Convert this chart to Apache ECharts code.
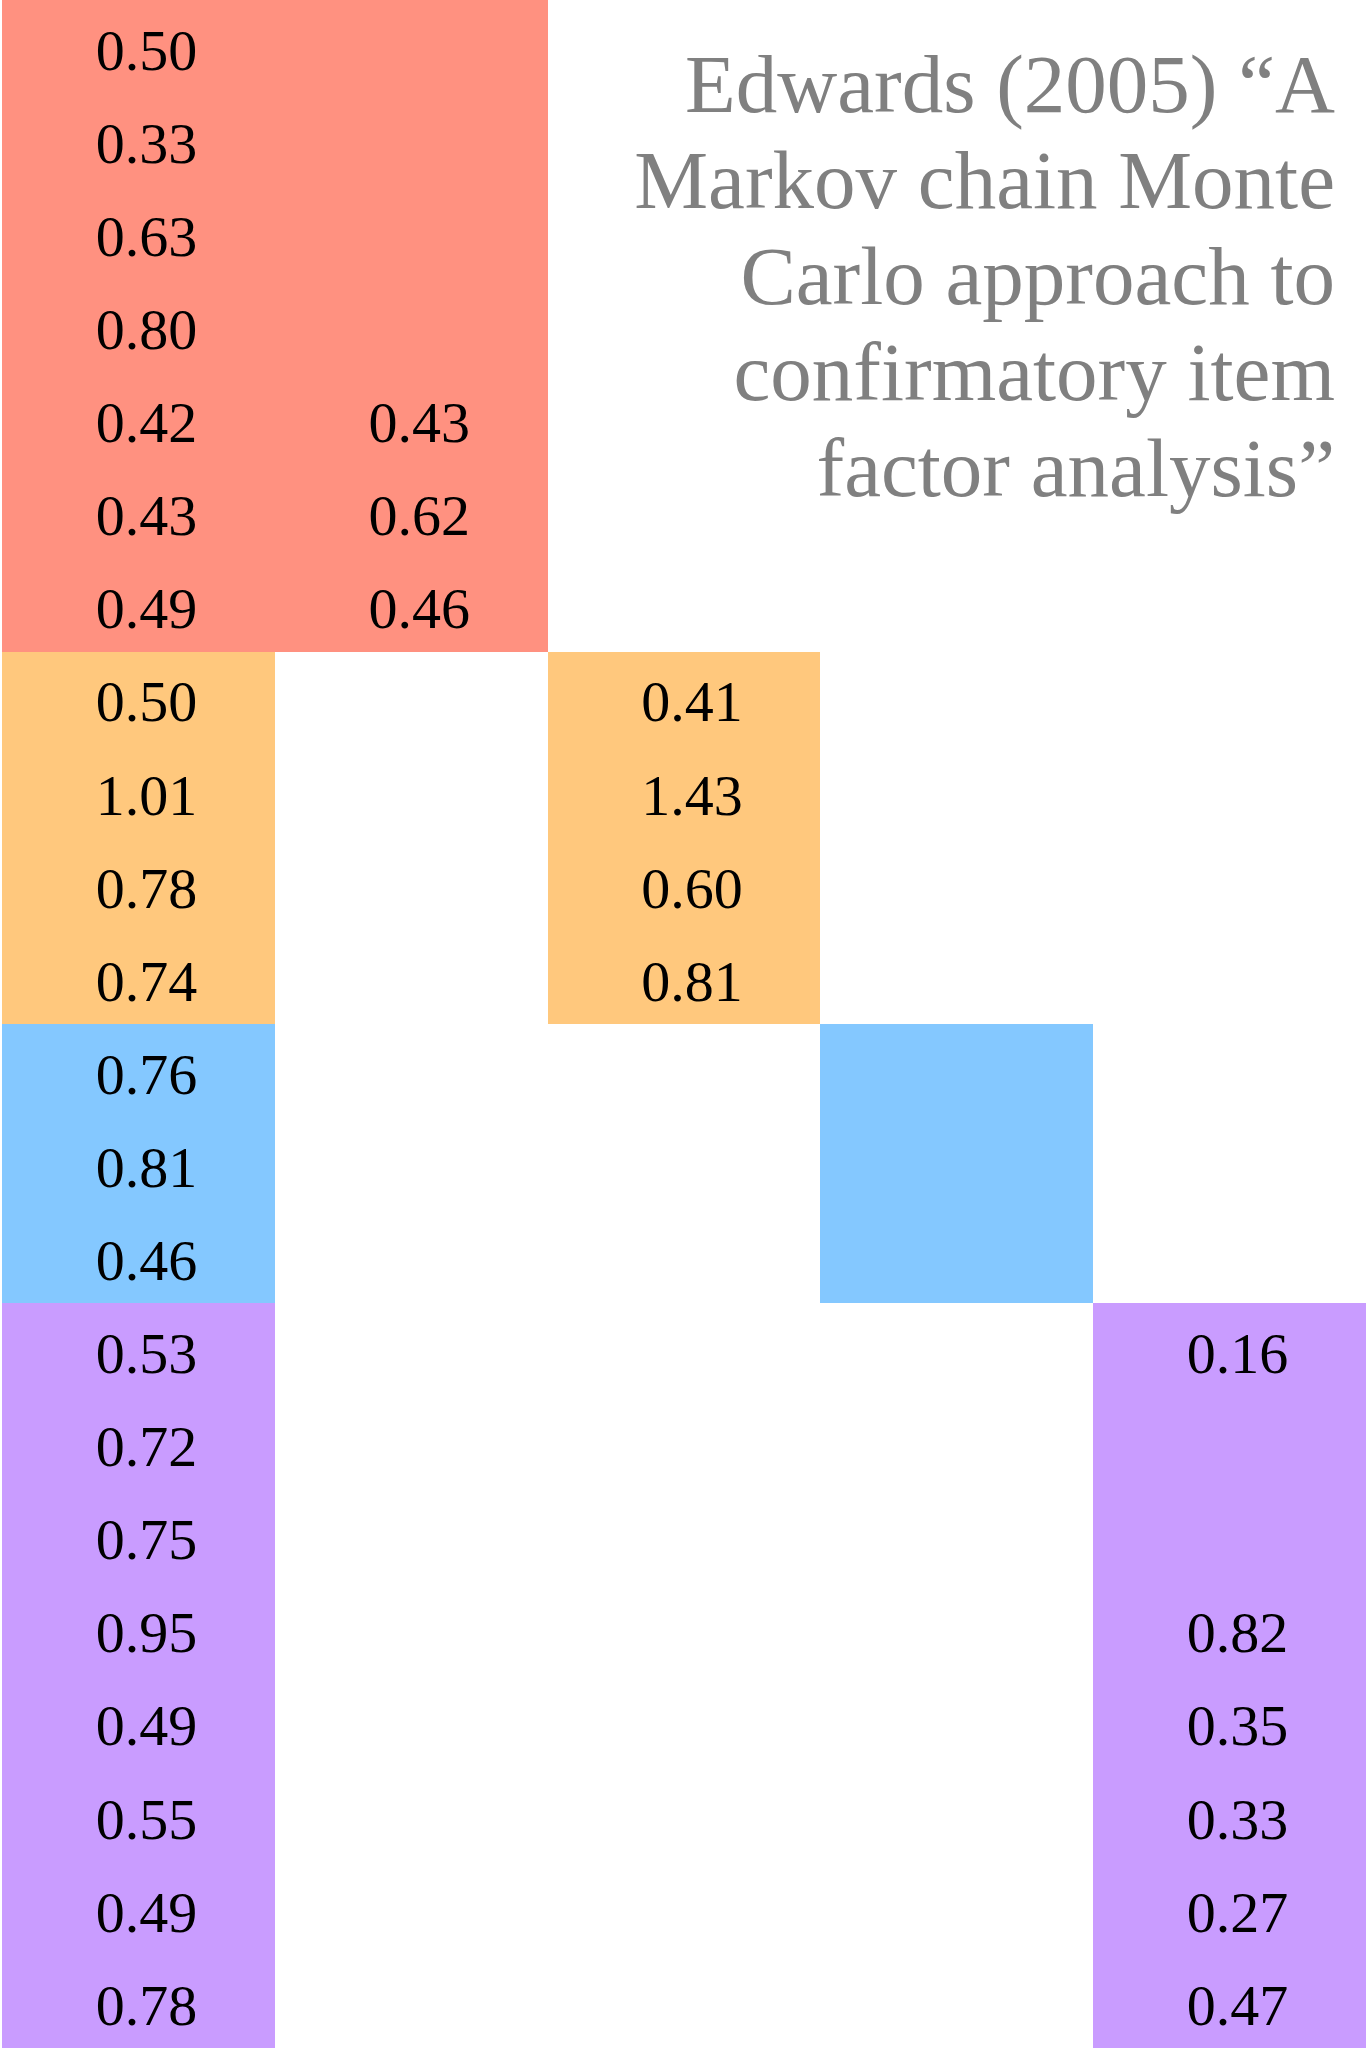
<!DOCTYPE html>
<html>
<head>
<meta charset="utf-8">
<script src="https://cdn.jsdelivr.net/npm/echarts@6/dist/echarts.min.js"></script>
<style>
html,body{margin:0;padding:0;background:#fff;}
#chart{width:1366px;height:2048px;}
</style>
</head>
<body>
<div id="chart"></div>
<script>
// ---- data ----
const titleLines = ['Edwards (2005) “A', 'Markov chain Monte', 'Carlo approach to', 'confirmatory item', 'factor analysis”'];
const factorColumns = ['General', 'Group 1', 'Group 2', 'Group 3', 'Group 4'];
const groupSizes = [7, 4, 3, 8];
const generalLoadings = [0.50, 0.33, 0.63, 0.80, 0.42, 0.43, 0.49,
                         0.50, 1.01, 0.78, 0.74,
                         0.76, 0.81, 0.46,
                         0.53, 0.72, 0.75, 0.95, 0.49, 0.55, 0.49, 0.78];
const group1Loadings = [null, null, null, null, 0.43, 0.62, 0.46];
const group2Loadings = [0.41, 1.43, 0.60, 0.81];
const group3Loadings = [null, null, null];
const group4Loadings = [0.16, null, null, 0.82, 0.35, 0.33, 0.27, 0.47];
const groupColors = ['#FF9180', '#FFC87D', '#84C8FF', '#C99CFF'];

// ---- build ----
const groupLoadings = [group1Loadings, group2Loadings, group3Loadings, group4Loadings];
const nRows = generalLoadings.length;
const nCols = factorColumns.length;

const rectData = [];   // [colStart, colEnd, rowStart, rowEnd, groupIndex]
const labelData = [];  // [col, row, value]
let start = 0;
groupSizes.forEach((size, g) => {
  const col = g + 1;
  if (col === 1) {
    rectData.push([0, 2, start, start + size, g]);
  } else {
    rectData.push([0, 1, start, start + size, g]);
    rectData.push([col, col + 1, start, start + size, g]);
  }
  for (let i = 0; i < size; i++) {
    labelData.push([0, start + i, generalLoadings[start + i]]);
    const v = groupLoadings[g][i];
    if (v !== null && v !== undefined) labelData.push([col, start + i, v]);
  }
  start += size;
});

const titleGraphics = titleLines.map((line, i) => ({
  type: 'text',
  x: 1335,
  y: 42 + i * 96,
  z: 10,
  style: {
    text: line,
    fontFamily: 'Liberation Serif',
    fontSize: 83,
    lineHeight: 96,
    fill: '#808080',
    align: 'right',
    verticalAlign: 'top'
  }
}));

const chart = echarts.init(document.getElementById('chart'));
chart.setOption({
  animation: false,
  backgroundColor: '#ffffff',
  graphic: titleGraphics,
  grid: { left: 2, right: 0, top: 0, bottom: 0 },
  xAxis: { type: 'value', min: 0, max: nCols, show: false },
  yAxis: { type: 'value', min: 0, max: nRows, inverse: true, show: false },
  series: [
    {
      type: 'custom',
      data: rectData,
      renderItem: function (params, api) {
        const p0 = api.coord([api.value(0), api.value(2)]);
        const p1 = api.coord([api.value(1), api.value(3)]);
        return {
          type: 'rect',
          shape: {
            x: Math.round(p0[0]), y: Math.round(p0[1]),
            width: Math.round(p1[0]) - Math.round(p0[0]),
            height: Math.round(p1[1]) - Math.round(p0[1])
          },
          style: { fill: groupColors[api.value(4)] }
        };
      },
      z: 1
    },
    {
      type: 'custom',
      data: labelData,
      renderItem: function (params, api) {
        const p = api.coord([api.value(0) + 0.5, api.value(1) + 0.5]);
        return {
          type: 'text',
          x: p[0] + 8,
          y: p[1] + 8,
          style: {
            text: api.value(2).toFixed(2),
            fontFamily: 'Liberation Serif',
            fontSize: 58,
            fill: '#000000',
            align: 'center',
            verticalAlign: 'middle'
          }
        };
      },
      z: 2
    }
  ]
});
</script>
</body>
</html>
